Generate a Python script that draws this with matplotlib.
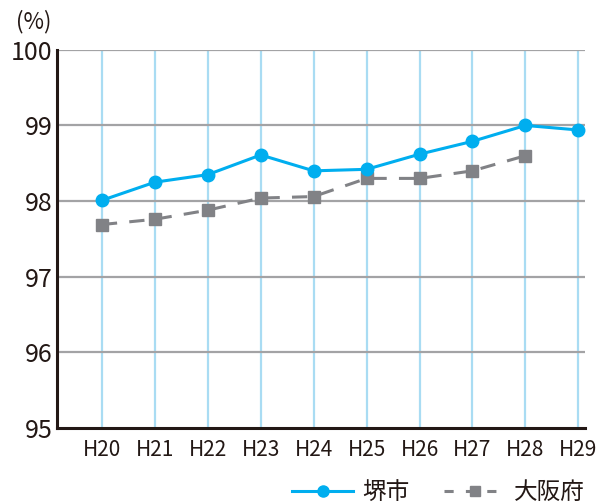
import matplotlib.pyplot as plt
from matplotlib.lines import Line2D

plt.rcParams['font.family'] = ['Noto Sans CJK JP', 'DejaVu Sans']

years = ["H20", "H21", "H22", "H23", "H24", "H25", "H26", "H27", "H28", "H29"]
sakai = [98.01, 98.25, 98.35, 98.61, 98.40, 98.42, 98.62, 98.79, 99.00, 98.94]
osaka = [97.69, 97.76, 97.88, 98.04, 98.06, 98.30, 98.30, 98.40, 98.60]
y_ticks = [95, 96, 97, 98, 99, 100]

BLUE = "#00aeef"
GRAY = "#818286"
INK = "#231815"

fig = plt.figure(figsize=(5.99, 5.03), dpi=100)
ax = fig.add_axes([0.095, 0.149, 0.882, 0.752])

x = list(range(len(years)))
# vertical guide lines at each year
for xi in x:
    ax.axvline(xi, color="#a9dcf3", lw=1.6, zorder=1)
for yv in y_ticks[1:]:
    ax.axhline(yv, color="#a3a3a5", lw=1.6, zorder=1)

ax.plot(x[:len(osaka)], osaka, color=GRAY, lw=2.2, dashes=(5, 4),
        marker="s", ms=8, mec=GRAY, mfc=GRAY, zorder=3)
ax.plot(x, sakai, color=BLUE, lw=2.2, marker="o", ms=9,
        mec=BLUE, mfc=BLUE, zorder=4)

ax.set_xlim(-0.85, 9.13)
ax.set_ylim(95, 100)
ax.set_yticks(y_ticks)
ax.set_yticklabels([str(v) for v in y_ticks], fontsize=18, color=INK)
ax.set_xticks(x)
ax.set_xticklabels(years, fontsize=15, color=INK)
ax.tick_params(length=0, pad=8)
ax.tick_params(axis="y", pad=3)

for s in ("top", "right"):
    ax.spines[s].set_visible(False)
for s in ("left", "bottom"):
    ax.spines[s].set_linewidth(2.2)
    ax.spines[s].set_color(INK)

fig.text(0.026, 0.957, "(%)", fontsize=16, color=INK, va="center")

handles = [
    Line2D([], [], color=BLUE, lw=2.2, marker="o", ms=8, mec=BLUE, mfc=BLUE),
    Line2D([], [], color=GRAY, lw=2.2, dashes=(3, 4), marker="s", ms=7,
           mec=GRAY, mfc=GRAY),
]
fig.legend(handles, ["堺市", "大阪府"], ncol=2, loc="lower right",
           bbox_to_anchor=(1.012, -0.045), frameon=False, fontsize=17,
           handlelength=2.6, handletextpad=0.35, columnspacing=1.5,
           labelcolor=INK)

fig.savefig("out.png", dpi=100)
